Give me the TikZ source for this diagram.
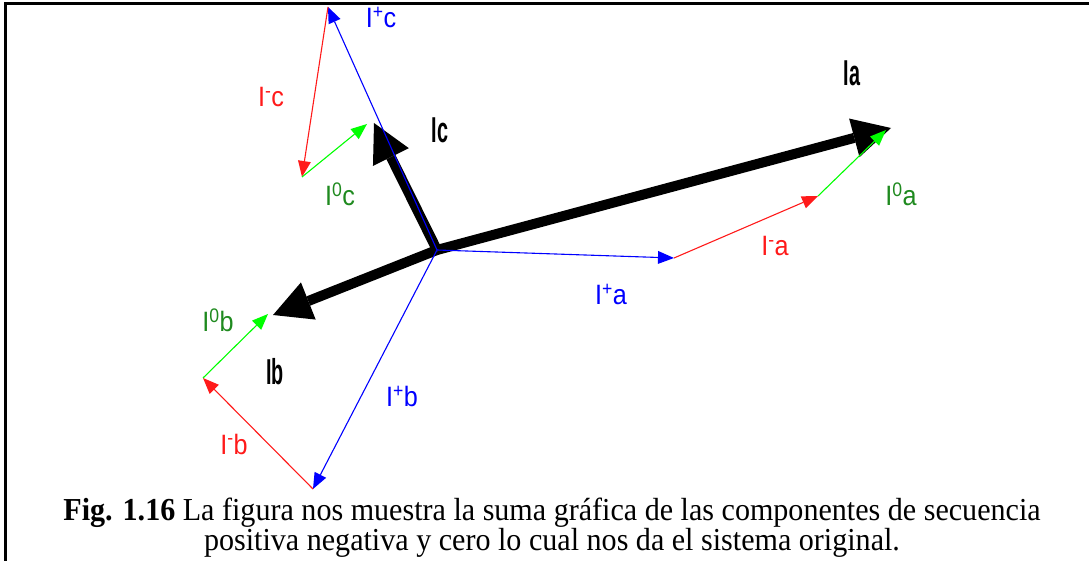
\documentclass[tikz,border=0pt]{standalone}
\usepackage{fontspec}
\setmainfont{Liberation Serif}
\setsansfont{Liberation Sans}
\usepackage{tikz}
\usetikzlibrary{arrows.meta}
\definecolor{seqblue}{HTML}{0000FF}
\definecolor{seqred}{HTML}{FF1A1A}
\definecolor{seqgreen}{HTML}{00FF00}
\definecolor{seqgreentext}{HTML}{1F8A1F}
\newcommand{\narrowtxt}[2][0.9]{\scalebox{#1}[1]{#2}}
\tikzset{
  posarrow/.style={draw=seqblue, line width=1.1pt,
    -{Triangle[length=16pt,width=13pt,line width=0pt]}},
  negarrow/.style={posarrow, draw=seqred},
  zeroarrow/.style={posarrow, draw=seqgreen},
  phasor/.style={draw=black, line width=10pt,
    -{Triangle[length=38pt,width=40pt,line width=0pt]}},
  seqlabel/.style={inner sep=0pt, font=\sffamily\fontsize{28}{28}\selectfont},
  phasorlabel/.style={inner sep=0pt, font=\sffamily\bfseries\fontsize{36}{36}\selectfont}
}

\begin{document}
\begin{tikzpicture}[x=1pt,y=-1pt]
\useasboundingbox (0,0) rectangle (1089,561);
% frame
\draw[line width=3pt] (5,561) -- (5,4) -- (1089,4);

% origin and arrow ends
\coordinate (o) at (437,250);
\coordinate (ia) at (891,128);
\coordinate (ib) at (273,315);
\coordinate (ic) at (374,123);
\coordinate (pa) at (674,258);
\coordinate (ma) at (818,196);
\coordinate (za) at (886,130);
\coordinate (pc) at (328,7);
\coordinate (mc) at (302,177);
\coordinate (zc) at (367,124);
\coordinate (pb) at (313,489);
\coordinate (mb) at (203,378);
\coordinate (zb) at (268,314);

% resulting phasors
\draw[phasor] (o) -- (ia);
\draw[phasor] (o) -- (ib);
\draw[phasor] (o) -- (ic);

% sequence components
\draw[posarrow] (o) -- (pa);
\draw[negarrow] (pa) -- (ma);
\draw[zeroarrow] (ma) -- (za);
\draw[posarrow] (o) -- (pc);
\draw[negarrow] (pc) -- (mc);
\draw[zeroarrow] (mc) -- (zc);
\draw[posarrow] (o) -- (pb);
\draw[negarrow] (pb) -- (mb);
\draw[zeroarrow] (mb) -- (zb);

% labels
\node[phasorlabel] (lia) at (852,73) {\narrowtxt[0.55]{Ia}};
\node[phasorlabel] (lib) at (275,372) {\narrowtxt[0.55]{Ib}};
\node[phasorlabel] (lic) at (440,130) {\narrowtxt[0.55]{Ic}};
\node[seqlabel, text=seqblue] (lpa) at (611,294) {\narrowtxt{I\textsuperscript{+}a}};
\node[seqlabel, text=seqred] (lma) at (775,246) {\narrowtxt{I\textsuperscript{-}a}};
\node[seqlabel, text=seqgreentext] (lza) at (901,194) {\narrowtxt{I\textsuperscript{0}a}};
\node[seqlabel, text=seqblue] (lpc) at (381,17) {\narrowtxt{I\textsuperscript{+}c}};
\node[seqlabel, text=seqred] (lmc) at (271,97) {\narrowtxt{I\textsuperscript{-}c}};
\node[seqlabel, text=seqgreentext] (lzc) at (340,194) {\narrowtxt{I\textsuperscript{0}c}};
\node[seqlabel, text=seqblue] (lpb) at (402,396) {\narrowtxt{I\textsuperscript{+}b}};
\node[seqlabel, text=seqred] (lmb) at (234,444) {\narrowtxt{I\textsuperscript{-}b}};
\node[seqlabel, text=seqgreentext] (lzb) at (218,320) {\narrowtxt{I\textsuperscript{0}b}};

% caption
\node[align=center, inner sep=0pt, font=\fontsize{32}{30}\selectfont] (caption) at (552,528)
  {\narrowtxt[0.94]{\textbf{Fig. 1.16} La figura nos muestra la suma gráfica de las componentes de secuencia}\\
   \narrowtxt[0.94]{positiva negativa y cero lo cual nos da el sistema original.}};
\end{tikzpicture}
\end{document}
